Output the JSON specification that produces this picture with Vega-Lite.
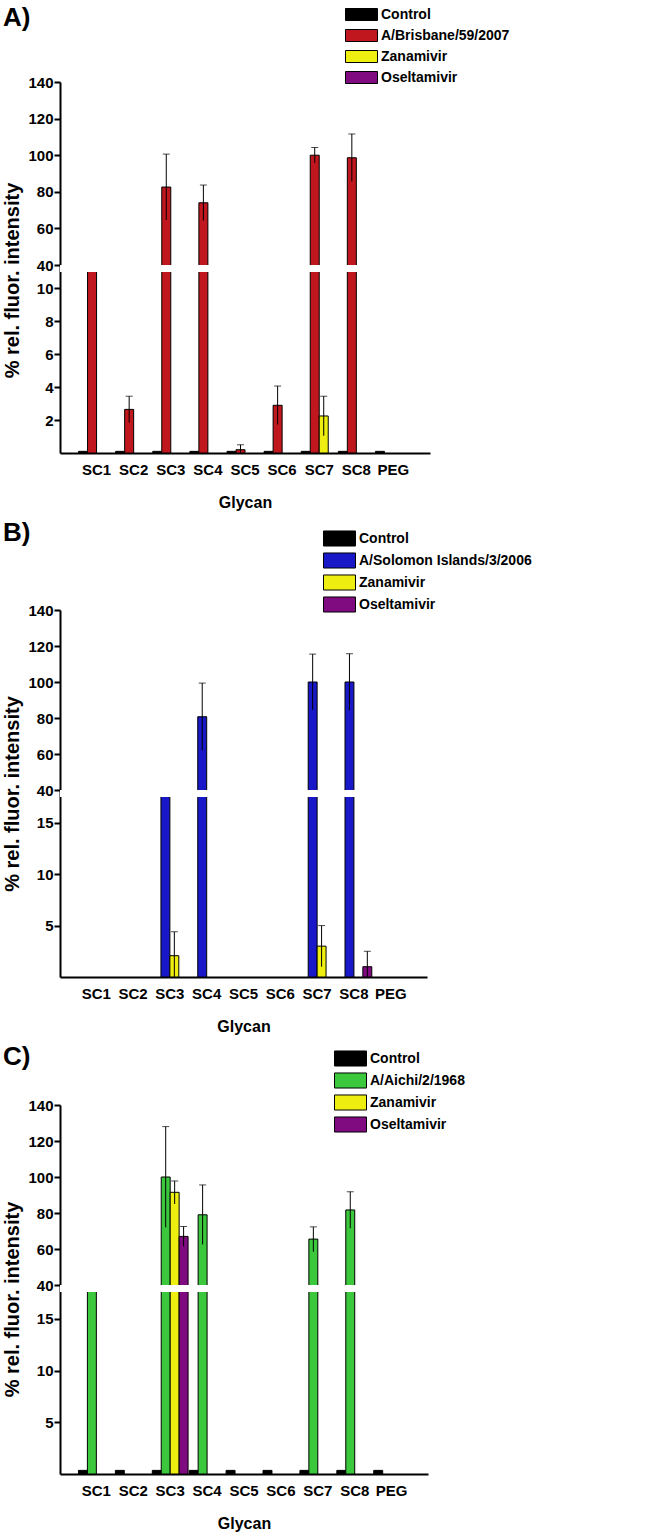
{
  "$schema": "https://vega.github.io/schema/vega-lite/v6.json",
  "background": "white",
  "padding": {"left": 2, "top": 5, "right": 5, "bottom": 2},
  "spacing": 10,
  "config": {
    "view": {"stroke": null},
    "font": "Liberation Sans",
    "title": {"anchor": "start", "frame": "bounds", "fontSize": 26, "font": "Liberation Sans", "fontWeight": "bold", "baseline": "top", "color": "black"},
    "axisX": {"domainWidth": 2, "domainColor": "black", "ticks": false, "grid": false, "labelAngle": 0, "labelFont": "Liberation Sans", "labelFontSize": 15, "labelFontWeight": "bold", "labelColor": "black", "labelPadding": 9, "titleFont": "Liberation Sans", "titleFontSize": 16, "titleFontWeight": "bold", "titleColor": "black", "titlePadding": 17},
    "axisY": {"domainWidth": 2, "domainColor": "black", "ticks": true, "tickWidth": 2, "tickSize": 6, "tickColor": "black", "tickCount": 30, "grid": false, "labelOverlap": false, "labelFont": "Liberation Sans", "labelFontSize": 15, "labelFontWeight": "bold", "labelColor": "black", "labelPadding": 1, "titleFont": "Liberation Sans", "titleFontSize": 20, "titleFontWeight": "bold", "titleColor": "black", "titlePadding": 5},
    "legend": {"title": null, "orient": "none", "symbolType": "M-2,-0.75H2V0.75H-2Z", "symbolSize": 256, "symbolStrokeColor": "black", "symbolStrokeWidth": 1, "labelFont": "Liberation Sans", "labelFontSize": 14, "labelFontWeight": "bold", "labelColor": "black", "labelOffset": 11, "labelLimit": 300, "rowPadding": 4, "padding": 0}
  },
  "datasets": {
    "bars": [
      {"panel": "A", "glycan": "SC1", "role": "ctrl", "series": "Control", "value": 0.1},
      {"panel": "A", "glycan": "SC2", "role": "ctrl", "series": "Control", "value": 0.1},
      {"panel": "A", "glycan": "SC3", "role": "ctrl", "series": "Control", "value": 0.1},
      {"panel": "A", "glycan": "SC4", "role": "ctrl", "series": "Control", "value": 0.1},
      {"panel": "A", "glycan": "SC5", "role": "ctrl", "series": "Control", "value": 0.1},
      {"panel": "A", "glycan": "SC6", "role": "ctrl", "series": "Control", "value": 0.1},
      {"panel": "A", "glycan": "SC7", "role": "ctrl", "series": "Control", "value": 0.1},
      {"panel": "A", "glycan": "SC8", "role": "ctrl", "series": "Control", "value": 0.1},
      {"panel": "A", "glycan": "PEG", "role": "ctrl", "series": "Control", "value": 0.1},
      {"panel": "A", "glycan": "SC1", "role": "virus", "series": "A/Brisbane/59/2007", "value": 25},
      {"panel": "A", "glycan": "SC2", "role": "virus", "series": "A/Brisbane/59/2007", "value": 2.65, "lo": 1.85, "hi": 3.45},
      {"panel": "A", "glycan": "SC3", "role": "virus", "series": "A/Brisbane/59/2007", "value": 82.6, "lo": 64.6, "hi": 100.6},
      {"panel": "A", "glycan": "SC4", "role": "virus", "series": "A/Brisbane/59/2007", "value": 74, "lo": 64.3, "hi": 83.7},
      {"panel": "A", "glycan": "SC5", "role": "virus", "series": "A/Brisbane/59/2007", "value": 0.2, "lo": 0, "hi": 0.5},
      {"panel": "A", "glycan": "SC6", "role": "virus", "series": "A/Brisbane/59/2007", "value": 2.9, "lo": 1.73, "hi": 4.07},
      {"panel": "A", "glycan": "SC7", "role": "virus", "series": "A/Brisbane/59/2007", "value": 100, "lo": 95.8, "hi": 104.2},
      {"panel": "A", "glycan": "SC8", "role": "virus", "series": "A/Brisbane/59/2007", "value": 98.6, "lo": 85.6, "hi": 111.6},
      {"panel": "A", "glycan": "SC7", "role": "zan", "series": "Zanamivir", "value": 2.25, "lo": 1.05, "hi": 3.45},
      {"panel": "B", "glycan": "SC3", "role": "virus", "series": "A/Solomon Islands/3/2006", "value": 25},
      {"panel": "B", "glycan": "SC4", "role": "virus", "series": "A/Solomon Islands/3/2006", "value": 80.7, "lo": 62, "hi": 99.4},
      {"panel": "B", "glycan": "SC7", "role": "virus", "series": "A/Solomon Islands/3/2006", "value": 100, "lo": 84.5, "hi": 115.5},
      {"panel": "B", "glycan": "SC8", "role": "virus", "series": "A/Solomon Islands/3/2006", "value": 100, "lo": 84.3, "hi": 115.7},
      {"panel": "B", "glycan": "SC3", "role": "zan", "series": "Zanamivir", "value": 2.07, "lo": 0, "hi": 4.4},
      {"panel": "B", "glycan": "SC7", "role": "zan", "series": "Zanamivir", "value": 3.0, "lo": 1.0, "hi": 5.0},
      {"panel": "B", "glycan": "SC8", "role": "osel", "series": "Oseltamivir", "value": 1.0, "lo": 0, "hi": 2.5},
      {"panel": "C", "glycan": "SC1", "role": "ctrl", "series": "Control", "value": 0.35},
      {"panel": "C", "glycan": "SC2", "role": "ctrl", "series": "Control", "value": 0.35},
      {"panel": "C", "glycan": "SC3", "role": "ctrl", "series": "Control", "value": 0.35},
      {"panel": "C", "glycan": "SC4", "role": "ctrl", "series": "Control", "value": 0.35},
      {"panel": "C", "glycan": "SC5", "role": "ctrl", "series": "Control", "value": 0.35},
      {"panel": "C", "glycan": "SC6", "role": "ctrl", "series": "Control", "value": 0.35},
      {"panel": "C", "glycan": "SC7", "role": "ctrl", "series": "Control", "value": 0.35},
      {"panel": "C", "glycan": "SC8", "role": "ctrl", "series": "Control", "value": 0.35},
      {"panel": "C", "glycan": "PEG", "role": "ctrl", "series": "Control", "value": 0.35},
      {"panel": "C", "glycan": "SC1", "role": "virus", "series": "A/Aichi/2/1968", "value": 25},
      {"panel": "C", "glycan": "SC3", "role": "virus", "series": "A/Aichi/2/1968", "value": 100, "lo": 72, "hi": 128},
      {"panel": "C", "glycan": "SC4", "role": "virus", "series": "A/Aichi/2/1968", "value": 79, "lo": 62.5, "hi": 95.6},
      {"panel": "C", "glycan": "SC7", "role": "virus", "series": "A/Aichi/2/1968", "value": 65.5, "lo": 58.5, "hi": 72.3},
      {"panel": "C", "glycan": "SC8", "role": "virus", "series": "A/Aichi/2/1968", "value": 81.7, "lo": 71.5, "hi": 91.8},
      {"panel": "C", "glycan": "SC3", "role": "zan", "series": "Zanamivir", "value": 91.5, "lo": 85, "hi": 97.8},
      {"panel": "C", "glycan": "SC3", "role": "osel", "series": "Oseltamivir", "value": 67, "lo": 61.5, "hi": 72.5}
    ],
    "gaps": [
      {"panel": "A", "lo": 11, "hi": 40},
      {"panel": "B", "lo": 17.5, "hi": 40},
      {"panel": "C", "lo": 17.6, "hi": 40}
    ]
  },
  "resolve": {"scale": {"x": "independent", "y": "independent", "xOffset": "independent", "color": "independent"}, "legend": {"color": "independent"}},
  "vconcat": [
    {
      "width": 370, "height": 371,
      "title": {"text": "A)", "offset": -25},
      "layer": [
        {
          "data": {"name": "bars"},
          "transform": [{"filter": "datum.panel === 'A'"}],
          "mark": {"type": "bar", "stroke": "black", "strokeWidth": 1},
          "encoding": {
            "x": {"field": "glycan", "type": "nominal", "title": "Glycan", "scale": {"domain": ["SC1", "SC2", "SC3", "SC4", "SC5", "SC6", "SC7", "SC8", "PEG"], "paddingInner": 0.03, "paddingOuter": 0.5}},
            "xOffset": {"field": "role", "type": "nominal", "scale": {"domain": ["ctrl", "virus", "zan", "osel"], "paddingInner": 0, "paddingOuter": 0}},
            "y": {"field": "value", "type": "quantitative", "title": "% rel. fluor. intensity", "scale": {"domain": [0, 11, 40, 140], "range": [371, 190, 183, 0], "nice": false, "zero": false}, "axis": {"values": [2, 4, 6, 8, 10, 40, 60, 80, 100, 120, 140], "tickCount": 30, "labelOverlap": false, "titleY": 198}},
            "color": {"field": "series", "type": "nominal", "scale": {"domain": ["Control", "A/Brisbane/59/2007", "Zanamivir", "Oseltamivir"], "range": ["#000000", "#C0161E", "#EEEE10", "#800A80"]}, "legend": {"legendX": 293, "legendY": -76}}
          }
        },
        {
          "data": {"name": "bars"},
          "transform": [{"filter": "datum.panel === 'A' && isValid(datum.hi)"}],
          "mark": {"type": "rule", "color": "black", "strokeWidth": 1},
          "encoding": {
            "x": {"field": "glycan", "type": "nominal", "title": "Glycan"},
            "xOffset": {"field": "role", "type": "nominal"},
            "y": {"field": "lo", "type": "quantitative", "title": "% rel. fluor. intensity"},
            "y2": {"field": "hi"}
          }
        },
        {
          "data": {"name": "bars"},
          "transform": [{"filter": "datum.panel === 'A' && isValid(datum.hi)"}],
          "mark": {"type": "tick", "orient": "horizontal", "size": 7, "thickness": 1, "color": "black"},
          "encoding": {
            "x": {"field": "glycan", "type": "nominal", "title": "Glycan"},
            "xOffset": {"field": "role", "type": "nominal"},
            "y": {"field": "hi", "type": "quantitative", "title": "% rel. fluor. intensity"}
          }
        },
        {
          "data": {"name": "gaps"},
          "transform": [{"filter": "datum.panel === 'A'"}],
          "mark": {"type": "rect", "color": "white"},
          "encoding": {
            "y": {"field": "lo", "type": "quantitative", "title": "% rel. fluor. intensity"},
            "y2": {"field": "hi"}
          }
        }
      ]
    },
    {
      "width": 367, "height": 367,
      "title": {"text": "B)", "offset": -16},
      "layer": [
        {
          "data": {"name": "bars"},
          "transform": [{"filter": "datum.panel === 'B'"}],
          "mark": {"type": "bar", "stroke": "black", "strokeWidth": 1},
          "encoding": {
            "x": {"field": "glycan", "type": "nominal", "title": "Glycan", "scale": {"domain": ["SC1", "SC2", "SC3", "SC4", "SC5", "SC6", "SC7", "SC8", "PEG"], "paddingInner": 0.03, "paddingOuter": 0.5}},
            "xOffset": {"field": "role", "type": "nominal", "scale": {"domain": ["ctrl", "virus", "zan", "osel"], "paddingInner": 0, "paddingOuter": 0}},
            "y": {"field": "value", "type": "quantitative", "title": "% rel. fluor. intensity", "scale": {"domain": [0, 17.5, 40, 140], "range": [367, 187, 180, 0], "nice": false, "zero": false}, "axis": {"values": [5, 10, 15, 40, 60, 80, 100, 120, 140], "tickCount": 30, "labelOverlap": false}},
            "color": {"field": "series", "type": "nominal", "scale": {"domain": ["Control", "A/Solomon Islands/3/2006", "Zanamivir", "Oseltamivir"], "range": ["#000000", "#1818C8", "#EEEE10", "#800A80"]}, "legend": {"legendX": 271, "legendY": -80, "symbolType": "M-2,-0.94H2V0.94H-2Z", "rowPadding": 1}}
          }
        },
        {
          "data": {"name": "bars"},
          "transform": [{"filter": "datum.panel === 'B' && isValid(datum.hi)"}],
          "mark": {"type": "rule", "color": "black", "strokeWidth": 1},
          "encoding": {
            "x": {"field": "glycan", "type": "nominal", "title": "Glycan"},
            "xOffset": {"field": "role", "type": "nominal"},
            "y": {"field": "lo", "type": "quantitative", "title": "% rel. fluor. intensity"},
            "y2": {"field": "hi"}
          }
        },
        {
          "data": {"name": "bars"},
          "transform": [{"filter": "datum.panel === 'B' && isValid(datum.hi)"}],
          "mark": {"type": "tick", "orient": "horizontal", "size": 7, "thickness": 1, "color": "black"},
          "encoding": {
            "x": {"field": "glycan", "type": "nominal", "title": "Glycan"},
            "xOffset": {"field": "role", "type": "nominal"},
            "y": {"field": "hi", "type": "quantitative", "title": "% rel. fluor. intensity"}
          }
        },
        {
          "data": {"name": "gaps"},
          "transform": [{"filter": "datum.panel === 'B'"}],
          "mark": {"type": "rect", "color": "white"},
          "encoding": {
            "y": {"field": "lo", "type": "quantitative", "title": "% rel. fluor. intensity"},
            "y2": {"field": "hi"}
          }
        }
      ]
    },
    {
      "width": 368, "height": 369,
      "title": {"text": "C)", "offset": -20},
      "layer": [
        {
          "data": {"name": "bars"},
          "transform": [{"filter": "datum.panel === 'C'"}],
          "mark": {"type": "bar", "stroke": "black", "strokeWidth": 1},
          "encoding": {
            "x": {"field": "glycan", "type": "nominal", "title": "Glycan", "scale": {"domain": ["SC1", "SC2", "SC3", "SC4", "SC5", "SC6", "SC7", "SC8", "PEG"], "paddingInner": 0.03, "paddingOuter": 0.5}},
            "xOffset": {"field": "role", "type": "nominal", "scale": {"domain": ["ctrl", "virus", "zan", "osel"], "paddingInner": 0, "paddingOuter": 0}},
            "y": {"field": "value", "type": "quantitative", "title": "% rel. fluor. intensity", "scale": {"domain": [0, 17.6, 40, 140], "range": [369, 187, 180, 0], "nice": false, "zero": false}, "axis": {"values": [5, 10, 15, 40, 60, 80, 100, 120, 140], "tickCount": 30, "labelOverlap": false, "titleY": 194}},
            "color": {"field": "series", "type": "nominal", "scale": {"domain": ["Control", "A/Aichi/2/1968", "Zanamivir", "Oseltamivir"], "range": ["#000000", "#3CC83C", "#EEEE10", "#800A80"]}, "legend": {"legendX": 282, "legendY": -55, "symbolType": "M-2,-0.94H2V0.94H-2Z", "rowPadding": 1}}
          }
        },
        {
          "data": {"name": "bars"},
          "transform": [{"filter": "datum.panel === 'C' && isValid(datum.hi)"}],
          "mark": {"type": "rule", "color": "black", "strokeWidth": 1},
          "encoding": {
            "x": {"field": "glycan", "type": "nominal", "title": "Glycan"},
            "xOffset": {"field": "role", "type": "nominal"},
            "y": {"field": "lo", "type": "quantitative", "title": "% rel. fluor. intensity"},
            "y2": {"field": "hi"}
          }
        },
        {
          "data": {"name": "bars"},
          "transform": [{"filter": "datum.panel === 'C' && isValid(datum.hi)"}],
          "mark": {"type": "tick", "orient": "horizontal", "size": 7, "thickness": 1, "color": "black"},
          "encoding": {
            "x": {"field": "glycan", "type": "nominal", "title": "Glycan"},
            "xOffset": {"field": "role", "type": "nominal"},
            "y": {"field": "hi", "type": "quantitative", "title": "% rel. fluor. intensity"}
          }
        },
        {
          "data": {"name": "gaps"},
          "transform": [{"filter": "datum.panel === 'C'"}],
          "mark": {"type": "rect", "color": "white"},
          "encoding": {
            "y": {"field": "lo", "type": "quantitative", "title": "% rel. fluor. intensity"},
            "y2": {"field": "hi"}
          }
        }
      ]
    }
  ]
}
